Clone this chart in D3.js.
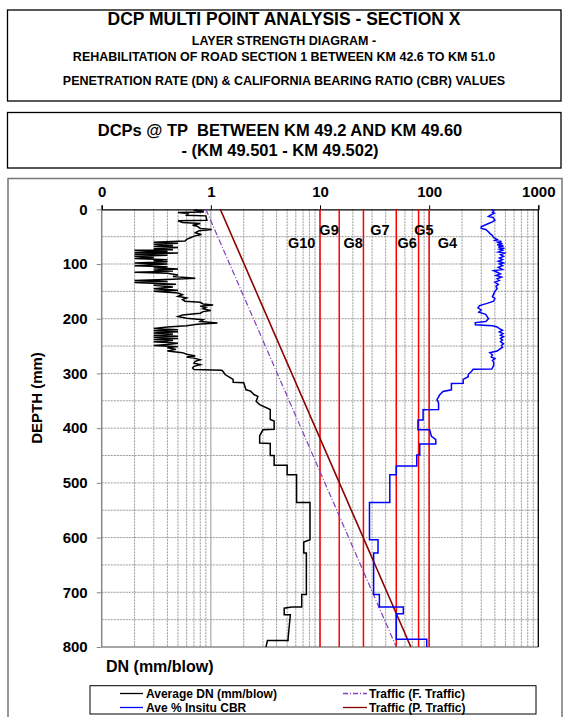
<html>
<head>
<script src="https://d3js.org/d3.v7.min.js"></script>
<style>
  body { margin: 0; background: #fff; }
  text { font-family: "Liberation Sans", Arial, sans-serif; font-weight: bold; fill: #000; }
</style>
</head>
<body>
<svg width="566" height="717"></svg>
<script>

// ---- data ----
var xTicks = [0.1, 1, 10, 100, 1000];
var xTickLabels = ["0", "1", "10", "100", "1000"];
var yTicks = [0, 100, 200, 300, 400, 500, 600, 700, 800];

// Average DN (mm/blow) : depth (mm) and DN
var dnDepth = [0, 2, 3, 5, 6, 8, 11, 12, 20, 21, 24, 26, 29, 31, 35, 37, 39, 43, 46, 49, 52, 55, 58,
  60, 62, 64, 66, 68, 70, 72, 74, 75, 77, 79, 80, 82, 84, 86, 88, 90, 92, 94, 96, 98, 100,
  103, 105, 107, 109, 111, 113, 115, 117, 120, 123, 126, 128, 130, 132, 134, 137, 139, 142, 145, 148, 150,
  153, 156, 159, 162, 165, 168, 170, 173, 175, 177, 180, 182, 185, 187, 190, 193, 196, 199, 202, 205, 208,
  210, 213, 215, 218, 220, 222, 224, 226, 228, 230, 232, 234, 236, 238, 240, 242, 245, 247, 249, 251, 253,
  256, 259, 262, 265, 268, 270, 272, 275, 278, 281, 284, 287, 290, 293, 294, 297, 302, 306, 311, 316, 317,
  330, 332, 339, 342, 351, 357, 366, 384, 387, 402, 403, 414, 427, 428, 450, 450, 468, 468, 485, 485,
  536, 536, 604, 608, 628, 628, 704, 704, 727, 727, 729, 741, 741, 784, 788, 788, 800];
var dnValue = [0.75, 0.72, 0.85, 0.85, 0.50, 0.62, 0.60, 0.90, 0.92, 0.50, 0.55, 0.80, 0.68, 0.75, 0.80, 1.02, 0.78, 0.72, 0.82, 0.70, 0.65, 0.60, 0.58,
  0.30, 0.50, 0.30, 0.45, 0.30, 0.50, 0.30, 0.45, 0.20, 0.40, 0.20, 0.50, 0.20, 0.40, 0.20, 0.30, 0.20, 0.40, 0.30, 0.40, 0.20, 0.40,
  0.20, 0.40, 0.30, 0.50, 0.30, 0.45, 0.20, 0.40, 0.50, 0.45, 0.72, 0.45, 0.20, 0.40, 0.20, 0.48, 0.30, 0.45, 0.30, 0.50, 0.30,
  0.50, 0.55, 0.50, 0.60, 0.55, 0.58, 0.80, 0.85, 1.05, 0.80, 0.90, 0.85, 1.00, 0.85, 0.80, 0.55, 0.50, 0.60, 0.85, 0.80, 1.15,
  0.75, 0.60, 0.40, 0.30, 0.50, 0.30, 0.50, 0.30, 0.45, 0.30, 0.50, 0.30, 0.50, 0.30, 0.45, 0.30, 0.50, 0.40, 0.30, 0.50, 0.40,
  0.48, 0.40, 0.55, 0.60, 0.72, 0.60, 0.70, 0.80, 0.72, 0.70, 0.80, 0.70, 0.68, 0.70, 1.26, 1.30, 1.35, 1.45, 1.60, 1.60, 2.0,
  2.1, 2.3, 2.5, 2.7, 2.6, 2.8, 3.5, 3.5, 3.8, 3.8, 3.0, 2.8, 2.8, 3.5, 3.5, 3.8, 3.8, 5.0, 5.0, 6.1,
  6.1, 8.1, 8.1, 7.1, 7.1, 7.5, 7.5, 6.8, 6.8, 5.5, 4.7, 4.7, 5.35, 5.1, 5.1, 3.3, 3.2];

// Ave % Insitu CBR : depth (mm) and CBR
var cbrDepth = [0, 3, 5, 7, 10, 13, 15, 20, 23, 26, 32, 35, 37, 40, 44, 48, 52, 55, 57, 59, 61, 63, 65, 67, 69,
  71, 73, 75, 78, 80, 83, 86, 89, 92, 95, 98, 100, 103, 106, 110, 112, 115, 118, 121, 124, 127, 130, 133,
  137, 141, 145, 150, 155, 160, 163, 168, 172, 176, 180, 184, 188, 192, 196, 200, 205, 207, 211, 213, 215,
  218, 221, 224, 227, 230, 233, 236, 239, 242, 246, 249, 252, 256, 259, 262, 266, 270, 273, 276, 279, 285,
  292, 292.5, 296, 302, 306, 311, 318, 318.5, 330, 333, 339, 348, 354, 366, 366.5, 385, 385, 403, 403, 415,
  421, 429, 429, 449, 449, 469, 469, 485, 485, 536, 536, 604, 604, 628, 628, 704, 704, 727, 727, 739, 739,
  786, 786, 800];
var cbrValue = [373, 390, 380, 395, 370, 350, 385, 400, 380, 350, 300, 300, 330, 345, 360, 380, 390, 420, 400, 460, 430, 470, 420, 480, 430,
  490, 440, 470, 430, 490, 450, 480, 440, 470, 430, 480, 440, 470, 430, 470, 390, 420, 450, 410, 460, 420, 440, 400,
  430, 410, 420, 400, 390, 380, 400, 390, 340, 290, 280, 300, 285, 330, 340, 350, 330, 265, 265, 380, 420,
  440, 470, 440, 475, 450, 480, 450, 470, 450, 480, 460, 470, 440, 420, 360, 380, 370, 400, 380, 390, 390,
  375, 253, 245, 228, 228, 205, 205, 160, 160, 134, 125, 118, 122, 122, 88, 88, 79, 79, 101, 105,
  115, 115, 82, 82, 77, 77, 50, 50, 43.6, 43.6, 28.4, 28.4, 34, 34, 31, 31, 35, 35, 58, 58, 50,
  50, 95, 95];

// grade boundary lines and labels
var gradeLines = [10, 15, 25, 50, 80, 100];
var gradeLabels = ["G10", "G9", "G8", "G7", "G6", "G5", "G4"];
var gradeLabelDN = [6.8, 12.1, 20.1, 35.4, 63, 89.6, 147];
var gradeLabelDepth = [62, 37, 62, 37, 62, 37, 62];

// traffic design lines: [DN, depth]
var fTraffic = [[0.9, 0], [50, 800]];
var pTraffic = [[1.22, 0], [68, 800]];

var legendLeft = ["Average DN (mm/blow)", "Ave % Insitu CBR"];
var legendRight = ["Traffic (F. Traffic)", "Traffic (P. Traffic)"];

// ---- layout ----
var svg = d3.select("svg");
var plotL = 101.7, plotR = 538.3, plotT = 209.3, plotB = 647;

var x = d3.scaleLog().domain([0.1, 1000]).range([plotL, plotR]);
var y = d3.scaleLinear().domain([0, 800]).range([plotT, plotB]);

// title boxes
svg.append("rect").attr("x", 7.5).attr("y", 10).attr("width", 553.5).attr("height", 91)
  .style("fill", "none").style("stroke", "#000").style("stroke-width", 1.3);
svg.append("rect").attr("x", 7.5).attr("y", 112.5).attr("width", 553.5).attr("height", 55.5)
  .style("fill", "none").style("stroke", "#000").style("stroke-width", 1.3);
svg.append("rect").attr("x", 8).attr("y", 178.5).attr("width", 554).attr("height", 560)
  .style("fill", "none").style("stroke", "#777").style("stroke-width", 1.5);

var cx = 284;
svg.append("text").attr("x", cx).attr("y", 25).attr("text-anchor", "middle").style("font-size", "17.5px")
  .text("DCP MULTI POINT ANALYSIS - SECTION X");
svg.append("text").attr("x", cx).attr("y", 45).attr("text-anchor", "middle").style("font-size", "12.5px")
  .text("LAYER STRENGTH DIAGRAM -");
svg.append("text").attr("x", cx).attr("y", 61).attr("text-anchor", "middle").style("font-size", "12.5px")
  .text("REHABILITATION OF ROAD SECTION 1 BETWEEN KM 42.6 TO KM 51.0");
svg.append("text").attr("x", cx).attr("y", 85).attr("text-anchor", "middle").style("font-size", "12.5px")
  .text("PENETRATION RATE (DN) & CALIFORNIA BEARING RATIO (CBR) VALUES");
svg.append("text").attr("x", 280).attr("y", 136).attr("text-anchor", "middle").style("font-size", "16.5px")
  .style("white-space", "pre").text("DCPs @ TP  BETWEEN KM 49.2 AND KM 49.60");
svg.append("text").attr("x", 280).attr("y", 156).attr("text-anchor", "middle").style("font-size", "16.5px")
  .text("- (KM 49.501 - KM 49.502)");

// grid
var minor = [];
[0.1, 1, 10, 100].forEach(function(d) {
  for (var k = 2; k <= 9; k++) minor.push(d * k);
});
svg.append("g").selectAll("line").data(minor).enter().append("line")
  .attr("x1", function(d) { return x(d); }).attr("x2", function(d) { return x(d); })
  .attr("y1", plotT).attr("y2", plotB)
  .style("stroke", "#999").style("stroke-dasharray", "2,1").style("stroke-width", 1);
svg.append("g").selectAll("line").data([1, 10, 100]).enter().append("line")
  .attr("x1", function(d) { return x(d); }).attr("x2", function(d) { return x(d); })
  .attr("y1", plotT).attr("y2", plotB)
  .style("stroke", "#aaa").style("stroke-width", 1.2);
svg.append("g").selectAll("line").data(d3.range(50, 800, 50)).enter().append("line")
  .attr("x1", plotL).attr("x2", plotR)
  .attr("y1", function(d) { return y(d); }).attr("y2", function(d) { return y(d); })
  .style("stroke", "#999").style("stroke-dasharray", "2,1").style("stroke-width", 1);

// frame
svg.append("line").attr("x1", plotL).attr("x2", plotL).attr("y1", plotT).attr("y2", plotB)
  .style("stroke", "#888").style("stroke-width", 1.5);
svg.append("line").attr("x1", plotL).attr("x2", plotR).attr("y1", plotB).attr("y2", plotB)
  .style("stroke", "#888").style("stroke-width", 1.5);
svg.append("line").attr("x1", plotR).attr("x2", plotR).attr("y1", plotT).attr("y2", plotB)
  .style("stroke", "#000").style("stroke-width", 1.3);

// axes
var xAxis = svg.append("g").attr("transform", "translate(0," + plotT + ")")
  .call(d3.axisTop(x).tickValues(xTicks).tickSize(4).tickPadding(8)
    .tickFormat(function(d, i) { return xTickLabels[i]; }));
xAxis.select(".domain").style("stroke", "#000").style("stroke-width", 1.3);
xAxis.selectAll("line").style("stroke", "#000");
xAxis.selectAll("text").style("font-size", "15px").style("font-family", "Liberation Sans, Arial").style("font-weight", "bold");

var yAxis = svg.append("g").attr("transform", "translate(" + plotL + ",0)")
  .call(d3.axisLeft(y).tickValues(yTicks).tickSize(5).tickPadding(9));
yAxis.select(".domain").remove();
yAxis.selectAll("line").style("stroke", "#888");
yAxis.selectAll("text").style("font-size", "15px").style("font-family", "Liberation Sans, Arial").style("font-weight", "bold");

svg.append("text").attr("transform", "translate(42,398) rotate(-90)")
  .attr("text-anchor", "middle").style("font-size", "15px").text("DEPTH (mm)");
svg.append("text").attr("x", 106).attr("y", 672).style("font-size", "16px").text("DN (mm/blow)");

// grade lines
svg.append("g").selectAll("line").data(gradeLines).enter().append("line")
  .attr("x1", function(d) { return x(d); }).attr("x2", function(d) { return x(d); })
  .attr("y1", plotT).attr("y2", plotB)
  .style("stroke", "#ff0000").style("stroke-width", 1.5);
svg.append("g").selectAll("text").data(gradeLabels).enter().append("text")
  .attr("x", function(d, i) { return x(gradeLabelDN[i]); })
  .attr("y", function(d, i) { return y(gradeLabelDepth[i]); })
  .attr("text-anchor", "middle").attr("dy", "0.35em")
  .style("font-size", "14.5px").text(function(d) { return d; });

// traffic lines
var tLine = d3.line().x(function(d) { return x(d[0]); }).y(function(d) { return y(d[1]); });
svg.append("path").datum(fTraffic).attr("d", tLine)
  .style("fill", "none").style("stroke", "#7f3fbf").style("stroke-width", 1.2)
  .style("stroke-dasharray", "6,2,1,2");
svg.append("path").datum(pTraffic).attr("d", tLine)
  .style("fill", "none").style("stroke", "#8b0000").style("stroke-width", 1.6);

// DN and CBR series
var dnLine = d3.line()
  .x(function(d, i) { return x(dnValue[i]); })
  .y(function(d) { return y(d); });
svg.append("path").datum(dnDepth).attr("d", dnLine)
  .style("fill", "none").style("stroke", "#000").style("stroke-width", 1.5);

var cbrLine = d3.line()
  .x(function(d, i) { return x(cbrValue[i]); })
  .y(function(d) { return y(d); });
svg.append("path").datum(cbrDepth).attr("d", cbrLine)
  .style("fill", "none").style("stroke", "#0000ff").style("stroke-width", 1.5);

// legend
svg.append("rect").attr("x", 90).attr("y", 685.7).attr("width", 446).attr("height", 28.3)
  .style("fill", "#fff").style("stroke", "#000").style("stroke-width", 1);
var rowY = [693.5, 707.5];
var leftColors = ["#000", "#0000ff"];
legendLeft.forEach(function(t, i) {
  svg.append("line").attr("x1", 120).attr("x2", 143).attr("y1", rowY[i]).attr("y2", rowY[i])
    .style("stroke", leftColors[i]).style("stroke-width", 1.3);
  svg.append("text").attr("x", 146).attr("y", rowY[i]).attr("dy", "0.36em")
    .style("font-size", "12px").text(t);
});
legendRight.forEach(function(t, i) {
  svg.append("line").attr("x1", 343).attr("x2", 367).attr("y1", rowY[i]).attr("y2", rowY[i])
    .style("stroke", i == 0 ? "#7f3fbf" : "#8b0000").style("stroke-width", 1.3)
    .style("stroke-dasharray", i == 0 ? "5,2,1,2" : null);
  svg.append("text").attr("x", 369).attr("y", rowY[i]).attr("dy", "0.36em")
    .style("font-size", "12px").text(t);
});

</script>
</body>
</html>
